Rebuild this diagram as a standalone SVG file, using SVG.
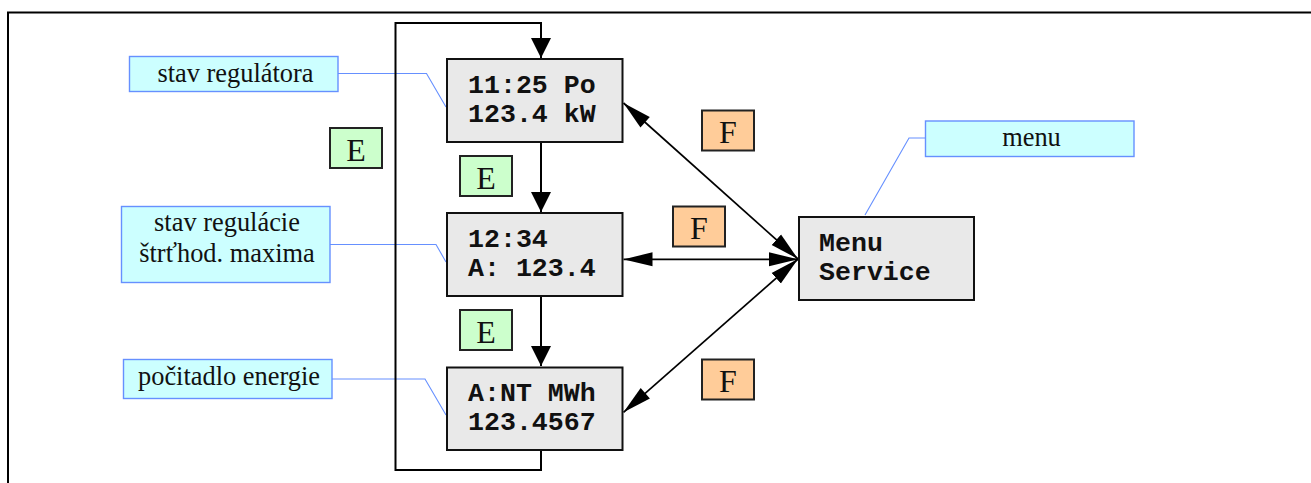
<svg xmlns="http://www.w3.org/2000/svg" width="1311" height="483" viewBox="0 0 1311 483">
<style>
.frame{fill:none;stroke:#000;stroke-width:2}
.disp rect{fill:#e9e9e9;stroke:#111;stroke-width:2}
.disp text{font:bold 26.6px "Liberation Mono","DejaVu Sans Mono",monospace;fill:#111}
.note rect{fill:#ccffff;stroke:#6690ff;stroke-width:1.4}
.note text{font:26.4px "Liberation Serif","Times New Roman",serif;fill:#111;text-anchor:middle}
.e rect{fill:#ccffcc;stroke:#222;stroke-width:2}
.f rect{fill:#ffcc99;stroke:#222;stroke-width:2}
.e text,.f text{font:32px "Liberation Serif","Times New Roman",serif;fill:#111;text-anchor:middle}
.lead{fill:none;stroke:#6690ff;stroke-width:1.1}
.conn{fill:none;stroke:#000;stroke-width:2}
.thin{stroke-width:1.7}
</style>
<defs>
<marker id="a" markerUnits="userSpaceOnUse" markerWidth="30" markerHeight="16" refX="29" refY="8" orient="auto"><path d="M0 1L29 8L0 15Z" fill="#000"/></marker>
<marker id="b" markerUnits="userSpaceOnUse" markerWidth="30" markerHeight="16" refX="0" refY="8" orient="auto"><path d="M29 1L0 8L29 15Z" fill="#000"/></marker>
<marker id="v" markerUnits="userSpaceOnUse" markerWidth="22" markerHeight="22" refX="21" refY="11" orient="auto"><path d="M1 1L21 11L1 21Z" fill="#000"/></marker>
</defs>
<path class="frame" d="M8 483V12.500H1311"/>
<g id="connectors">
<path class="lead" d="M338 73.500H426.500L446 107"/>
<path class="lead" d="M330 244.500H436L446 262"/>
<path class="lead" d="M332 379H425L446 415"/>
<path class="lead" d="M925 138H909L865 215"/>
<path class="conn" d="M541 450V470H395.500V23H541V58" marker-end="url(#v)"/>
<path class="conn" d="M541 142V212" marker-end="url(#v)"/>
<path class="conn" d="M541 296V366" marker-end="url(#v)"/>
<path class="conn thin" d="M623.500 103L798 259" marker-start="url(#b)" marker-end="url(#a)"/>
<path class="conn thin" d="M623.500 259.300H798" marker-start="url(#b)" marker-end="url(#a)"/>
<path class="conn thin" d="M623.500 412.300L798 259" marker-start="url(#b)" marker-end="url(#a)"/>
</g>
<g id="d1" class="disp"><rect x="447" y="59" width="175.500" height="83"/><text x="468" y="92.500">11:25 Po</text><text x="468" y="121.500">123.4 kW</text></g>
<g id="d2" class="disp"><rect x="447" y="213" width="175.500" height="83"/><text x="468" y="246.500">12:34</text><text x="468" y="275.500">A: 123.4</text></g>
<g id="d3" class="disp"><rect x="447" y="367.500" width="175.500" height="82.500"/><text x="468" y="401">A:NT MWh</text><text x="468" y="430">123.4567</text></g>
<g id="menu-box" class="disp"><rect x="799" y="217" width="175" height="83"/><text x="819" y="250.500">Menu</text><text x="819" y="279.500">Service</text></g>
<g id="n1" class="note"><rect x="129.500" y="56.500" width="208.500" height="35"/><text x="235.500" y="82">stav regulátora</text></g>
<g id="n2" class="note"><rect x="121.500" y="206.500" width="208.500" height="76"/><text x="227" y="231">stav regulácie</text><text x="227" y="262">štrťhod. maxima</text></g>
<g id="n3" class="note"><rect x="123.500" y="359.500" width="208.500" height="39"/><text x="229" y="385">počitadlo energie</text></g>
<g id="n4" class="note"><rect x="925.500" y="121" width="208.500" height="35.500"/><text x="1031.500" y="146">menu</text></g>
<g id="e1" class="e"><rect x="330" y="128" width="52" height="40"/><text x="356" y="161">E</text></g>
<g id="e2" class="e"><rect x="460" y="156" width="52" height="40"/><text x="486" y="189">E</text></g>
<g id="e3" class="e"><rect x="460" y="310" width="52" height="40"/><text x="486" y="343">E</text></g>
<g id="f1" class="f"><rect x="702" y="110.500" width="52" height="40"/><text x="728" y="143">F</text></g>
<g id="f2" class="f"><rect x="673" y="206.500" width="52" height="40"/><text x="699" y="239">F</text></g>
<g id="f3" class="f"><rect x="702" y="359.500" width="52" height="40"/><text x="728" y="392">F</text></g>
</svg>
